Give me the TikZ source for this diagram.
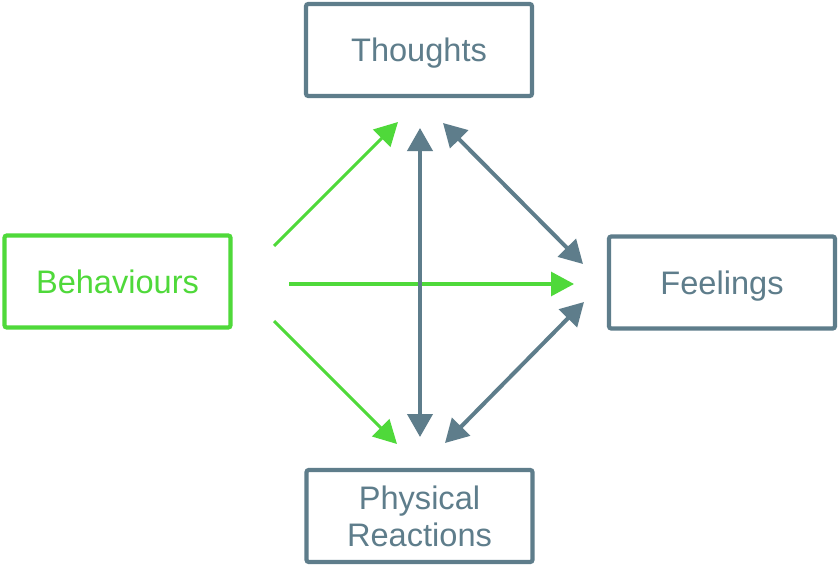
\documentclass[tikz,border=0pt]{standalone}
\usepackage{fontspec}
\setmainfont{Liberation Sans}
\usetikzlibrary{arrows.meta}
\definecolor{slate}{HTML}{5E7D8B}
\definecolor{leaf}{HTML}{4FD93A}
\begin{document}
\begin{tikzpicture}[x=0.03cm,y=-0.03cm,
    box/.style={draw,line width=3.6pt,rounded corners=2pt,minimum width=6.78cm,
        minimum height=2.76cm,inner sep=0pt,outer sep=0pt,align=center,
        text depth=0pt,font=\fontsize{27.8}{31.6}\selectfont},
    cbt/.style={line width=2.6pt,leaf,-{Triangle[length=0.69cm,width=0.72cm]}},
    link/.style={line width=3.4pt,slate,{Triangle[length=0.69cm,width=0.75cm]}-{Triangle[length=0.69cm,width=0.75cm]}}]
  \useasboundingbox[fill=white] (0,0) rectangle (840,566);
  \node[box,slate,text=slate] (thoughts) at (419,50) {Thoughts};
  \node[box,leaf,text=leaf] (behaviours) at (117.5,281.5) {Behaviours};
  \node[box,slate,text=slate] (feelings) at (722,282.5) {Feelings};
  \node[box,slate,text=slate] (physical) at (419.5,516) {Physical\\Reactions};
  % arrow ends
  \coordinate (b1) at (274,246);
  \coordinate (b2) at (289,284);
  \coordinate (b3) at (274,321);
  \coordinate (t1) at (398,122);
  \coordinate (t2) at (420,128);
  \coordinate (t3) at (443,123);
  \coordinate (f1) at (583,264);
  \coordinate (f2) at (574,284);
  \coordinate (f3) at (584,302);
  \coordinate (p1) at (397,444);
  \coordinate (p2) at (420,437);
  \coordinate (p3) at (445,443);
  \draw[cbt] (b1) -- (t1);
  \draw[cbt] (b2) -- (f2);
  \draw[cbt] (b3) -- (p1);
  \draw[link] (t2) -- (p2);
  \draw[link] (t3) -- (f1);
  \draw[link] (p3) -- (f3);
\end{tikzpicture}
\end{document}
